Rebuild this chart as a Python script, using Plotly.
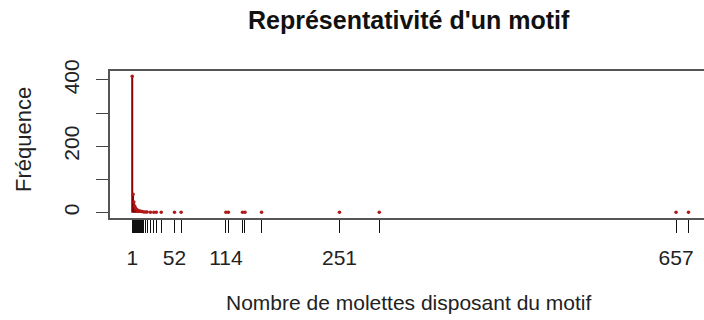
import plotly.graph_objects as go

# Number of wheels carrying a motif, and how many motifs share that count
nb_molettes = [1, 2, 3, 4, 5, 6, 7, 8, 9, 10, 11, 12, 13, 15, 17, 19, 23, 27, 30,
               36, 52, 60, 114, 117, 134, 137, 157, 251, 299, 657, 672]
frequence = [411, 55, 32, 20, 14, 10, 8, 6, 5, 4, 4, 3, 3, 2, 2, 2, 1, 1, 1,
             1, 1, 1, 1, 1, 1, 1, 1, 1, 1, 1, 1]

x_labels_shown = [1, 52, 114, 251, 657]
y_ticks = [0, 100, 200, 300, 400]
y_labels_shown = [0, 200, 400]

BAR = "#8B0000"
FONT = "Liberation Sans, Arial, sans-serif"

# vertical "h"-style spikes
xs, ys = [], []
for x, f in zip(nb_molettes, frequence):
    xs += [x, x, None]
    ys += [0, f, None]

fig = go.Figure()
fig.add_trace(go.Scatter(x=xs, y=ys, mode="lines",
                         line=dict(color=BAR, width=2), hoverinfo="skip"))
# round caps at the top of each spike
fig.add_trace(go.Scatter(x=nb_molettes, y=frequence, mode="markers",
                         marker=dict(color="#b01818", size=3.5), hoverinfo="skip"))

W, H = 704, 320
L, R, T, B = 110, 0, 71, 102
pw, ph = W - L - R, H - T - B

def px_x(p):
    return (p - L) / pw

def px_y(p):
    return (H - B - p) / ph

fig.update_layout(
    width=W, height=H,
    margin=dict(l=L, r=R, t=T, b=B),
    paper_bgcolor="white", plot_bgcolor="white",
    showlegend=False,
    font=dict(family=FONT, color="#222222", size=21),
    xaxis=dict(
        range=[-25.8, 690.7],
        tickmode="array",
        tickvals=nb_molettes,
        ticktext=[str(v) if v in x_labels_shown else "" for v in nb_molettes],
        ticks="outside", ticklen=13, tickwidth=1, tickcolor="#111111",
        showline=True, linecolor="#555555", linewidth=2, mirror=True,
        showgrid=False, zeroline=False,
        ticklabelstandoff=7,
        tickfont=dict(size=21, color="#222222"),
    ),
    yaxis=dict(
        range=[-16.4, 427],
        tickmode="array",
        tickvals=y_ticks,
        ticktext=[str(v) if v in y_labels_shown else "" for v in y_ticks],
        tickangle=-90,
        ticks="outside", ticklen=12, tickwidth=1, tickcolor="#444444",
        showline=True, linecolor="#555555", linewidth=2,
        showgrid=False, zeroline=False,
        ticklabelstandoff=9,
        tickfont=dict(size=21, color="#222222"),
    ),
    annotations=[
        dict(text="<b>Représentativité d'un motif</b>", xref="paper", yref="paper",
             x=px_x(409), y=px_y(20), xanchor="center", yanchor="middle",
             showarrow=False, font=dict(size=25, color="#111111")),
        dict(text="Nombre de molettes disposant du motif", xref="paper", yref="paper",
             x=px_x(409), y=px_y(302), xanchor="center", yanchor="middle",
             showarrow=False, font=dict(size=21, color="#222222")),
        dict(text="Fréquence", xref="paper", yref="paper",
             x=px_x(23), y=px_y(140), xanchor="center", yanchor="middle",
             textangle=-90, showarrow=False, font=dict(size=22, color="#222222")),
    ],
)

fig.write_html("out.html")
